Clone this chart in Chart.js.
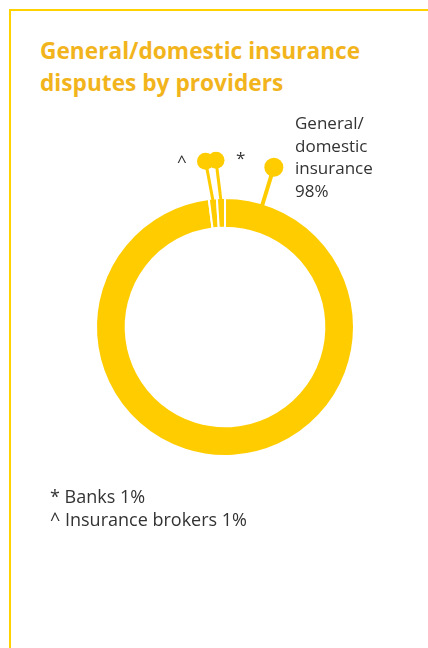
<!DOCTYPE html>
<html>
<head>
<meta charset="utf-8">
<script src="https://cdn.jsdelivr.net/npm/chart.js@4.4.1/dist/chart.umd.min.js"></script>
<style>
  html, body { margin: 0; padding: 0; background: #fff; width: 428px; height: 648px; overflow: hidden;
    font-family: "Open Sans", "Noto Sans", sans-serif; }
  #frame { position: absolute; left: 9px; top: 9px; width: 440px; height: 660px;
    border-left: 2px solid #FFD200; border-top: 2px solid #FFD200; }
  #title { position: absolute; left: 40px; top: 35px; margin: 0; font-size: 22.7px; font-weight: 700;
    line-height: 32px; color: #F2B41C; white-space: nowrap; }
  #chart { position: absolute; left: 0; top: 0; }
  .lbl { position: absolute; color: #333; font-size: 17px; line-height: 22.5px; white-space: pre-line; }
  #main-label { left: 295px; top: 112px; }
  #mk-brokers { left: 177px; top: 150px; }
  #mk-banks { left: 236px; top: 147px; }
  #notes { left: 50px; top: 485px; font-size: 18px; line-height: 23px; }
</style>
</head>
<body>
<div id="frame"></div>
<h1 id="title">General/domestic insurance<br>disputes by providers</h1>
<canvas id="chart" width="428" height="648"></canvas>
<div class="lbl" id="main-label"></div>
<div class="lbl" id="mk-brokers"></div>
<div class="lbl" id="mk-banks"></div>
<div class="lbl" id="notes"></div>
<script>
// Share of disputes by provider type (%)
const categories = ['General/domestic insurance', 'Insurance brokers', 'Banks'];
const shares = [98, 1, 1];
const markers = ['', '^', '*'];

const YELLOW = '#FFCC00';

// Labels built from the data
document.getElementById('main-label').textContent =
  categories[0].replace('/', '/\n').replace(' ', '\n') + '\n' + shares[0] + '%';
document.getElementById('mk-brokers').textContent = markers[1];
document.getElementById('mk-banks').textContent = markers[2];
document.getElementById('notes').textContent =
  markers[2] + ' ' + categories[2] + ' ' + shares[2] + '%\n' +
  markers[1] + ' ' + categories[1] + ' ' + shares[1] + '%';

// Pin callouts: a stick from the ring edge out to a round head
const pinPlugin = {
  id: 'pins',
  afterDatasetsDraw(chart, args, opts) {
    const ctx = chart.ctx;
    const arcs = chart.getDatasetMeta(0).data;
    opts.pins.forEach(p => {
      const arc = arcs[p.index];
      const { x, y, startAngle, endAngle, outerRadius } = arc.getProps(['x', 'y', 'startAngle', 'endAngle', 'outerRadius'], true);
      const base = (p.angle !== undefined) ? (p.angle - 90) * Math.PI / 180 : (startAngle + endAngle) / 2;
      const tip = base + (p.tilt || 0) * Math.PI / 180;
      const r0 = outerRadius - 3;
      const r1 = outerRadius + p.length;
      const bx = x + Math.cos(base) * r0, by = y + Math.sin(base) * r0;
      const hx = x + Math.cos(tip) * r1, hy = y + Math.sin(tip) * r1;
      ctx.save();
      ctx.strokeStyle = YELLOW;
      ctx.fillStyle = YELLOW;
      ctx.lineWidth = p.width;
      ctx.beginPath();
      ctx.moveTo(bx, by);
      ctx.lineTo(hx, hy);
      ctx.stroke();
      ctx.beginPath();
      ctx.arc(hx, hy, p.head, 0, Math.PI * 2);
      ctx.fill();
      ctx.restore();
    });
  }
};

new Chart(document.getElementById('chart'), {
  type: 'doughnut',
  data: {
    labels: categories,
    datasets: [{
      data: shares,
      backgroundColor: YELLOW,
      borderColor: '#ffffff',
      borderWidth: 2,
      hoverOffset: 0
    }]
  },
  options: {
    responsive: false,
    animation: false,
    events: [],
    cutout: '77%',
    layout: { padding: { left: 95, right: 73, top: 197, bottom: 191 } },
    plugins: {
      legend: { display: false },
      tooltip: { enabled: false },
      pins: {
        pins: [
          { index: 0, angle: 17, length: 38, width: 4, head: 9.5 },
          { index: 1, tilt: -1.3, length: 38, width: 3, head: 8.5 },
          { index: 2, tilt: -1.3, length: 38, width: 3, head: 8.5 }
        ]
      }
    }
  },
  plugins: [pinPlugin]
});
</script>
</body>
</html>
